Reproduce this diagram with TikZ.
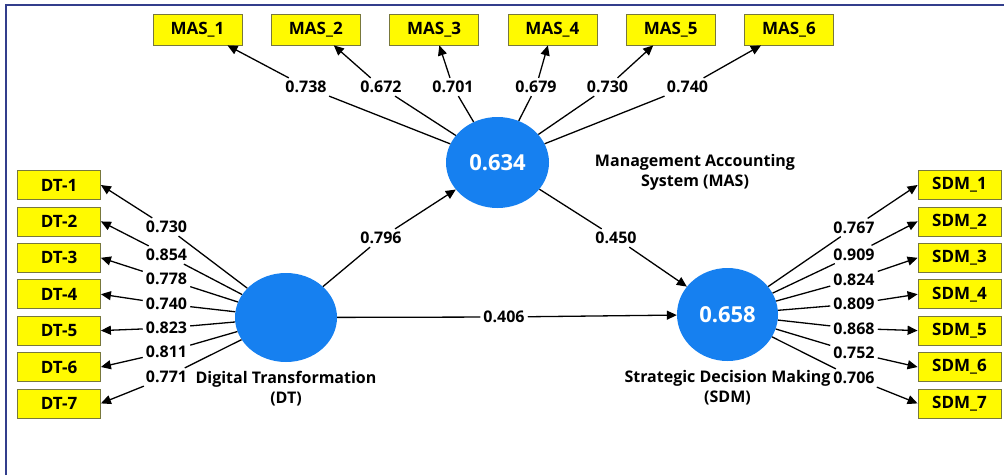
\documentclass[tikz,border=0pt]{standalone}
\usepackage{fontspec}
\setmainfont{Open Sans}
\usepackage{tikz}
\usetikzlibrary{arrows.meta, positioning, shapes.geometric, calc}
\definecolor{itemfill}{RGB}{255, 250, 0}
\definecolor{itemline}{RGB}{120, 120, 60}
\definecolor{latentblue}{RGB}{22, 128, 240}
\definecolor{framecol}{RGB}{50, 62, 140}

\begin{document}
\begin{tikzpicture}[x=1pt, y=-1pt,
    item/.style={rectangle, draw=itemline, fill=itemfill, line width=0.8pt, minimum width=83pt, minimum height=29pt, inner sep=0pt, font=\fontsize{17}{20}\selectfont\bfseries},
    masitem/.style={item, minimum width=89pt, minimum height=31pt},
    latent/.style={ellipse, fill=latentblue, inner sep=0pt, text=white, font=\fontsize{22}{26}\selectfont\bfseries},
    lbl/.style={inner sep=3pt, font=\fontsize{16}{19}\selectfont\bfseries},
    cname/.style={align=center, font=\fontsize{16}{20}\selectfont\bfseries},
    ln/.style={line width=1.3pt},
    arr/.style={ln, -{Triangle[length=10pt, width=9pt]}}
]
    \useasboundingbox (0,0) rectangle (1004,475);
    \fill[white] (0,0) rectangle (1004,475);
    \draw[framecol, line width=2.5pt] (6,475) -- (6,5) -- (1004,5);

    % Constructs
    \node[latent, minimum width=103pt, minimum height=91pt] (mas) at (497.5,162.5) {0.634};
    \node[latent, minimum width=102pt, minimum height=89pt] (dt) at (286,317.5) {};
    \node[latent, minimum width=101pt, minimum height=93pt] (sdm) at (727.5,314.5) {0.658};

    \node[cname] (masname) at (695,172) {Management Accounting\\System (MAS)};
    \node[cname, below=6pt of dt] (dtname) {Digital Transformation\\(DT)};
    \node[cname, below=6pt of sdm] (sdmname) {Strategic Decision Making\\(SDM)};

    % MAS indicators
    \foreach \v/\x [count=\i] in {0.738/306, 0.672/381, 0.701/453, 0.679/536, 0.730/607.5, 0.740/687.5} {
        \node[masitem] (m\i) at ({197.5+118.3*(\i-1)}, 29.5) {MAS\_\i};
        \node[lbl] (lm\i) at (\x, 87) {\v};
        \draw[ln] (mas) -- (lm\i);
        \draw[arr] (lm\i) -- (m\i);
    }

    % DT indicators
    \foreach \v/\y [count=\i] in {0.730/227, 0.854/255, 0.778/279, 0.740/304, 0.823/328, 0.811/352, 0.771/377} {
        \node[item] (d\i) at (59, {185+36.4*(\i-1)}) {DT-\i};
        \node[lbl] (ld\i) at (166.5, \y) {\v};
        \draw[ln] (dt) -- (ld\i);
        \draw[arr] (ld\i) -- (d\i.east);
    }

    % SDM indicators
    \foreach \v/\y [count=\i] in {0.767/227.5, 0.909/254.5, 0.824/279.5, 0.809/304, 0.868/328.5, 0.752/352.5, 0.706/378} {
        \node[item] (s\i) at (959.5, {185+36.4*(\i-1)}) {SDM\_\i};
        \node[lbl] (ls\i) at (854, \y) {\v};
        \draw[ln] (sdm) -- (ls\i);
        \draw[arr] (ls\i) -- (s\i.west);
    }

    % Paths
    \node[lbl] (p1) at (381,238) {0.796};
    \node[lbl] (p2) at (616,238) {0.450};
    \node[lbl] (p3) at (504,317) {0.406};
    \draw[ln] (dt) -- (p1);
    \draw[arr] (p1) -- (mas);
    \draw[ln] (mas) -- (p2);
    \draw[arr] (p2) -- (sdm);
    \draw[ln] (dt) -- (p3);
    \draw[arr] (p3) -- (sdm);
\end{tikzpicture}
\end{document}
